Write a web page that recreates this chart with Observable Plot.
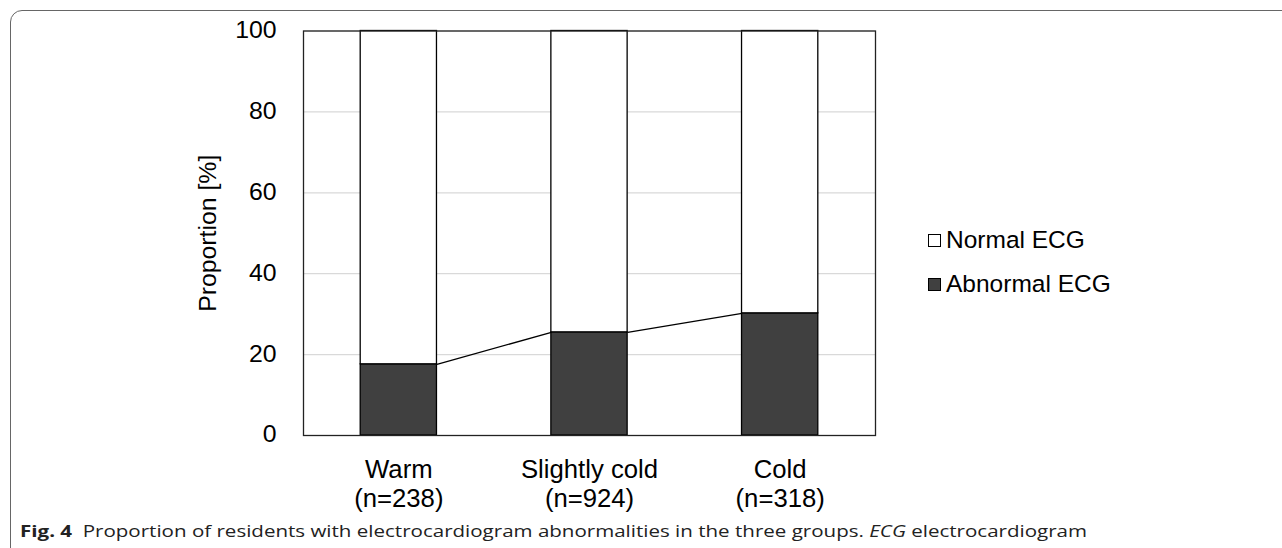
<!DOCTYPE html>
<html>
<head>
<meta charset="utf-8">
<script src="https://cdn.jsdelivr.net/npm/d3@7"></script>
<script src="https://cdn.jsdelivr.net/npm/@observablehq/plot@0.6"></script>
<style>
  html, body { margin: 0; padding: 0; background: #fff; }
  #wrap { position: relative; width: 1282px; height: 548px; overflow: hidden; font-family: "Liberation Sans", Arial, sans-serif; }
  #border { position: absolute; left: 10px; top: 10px; width: 1300px; height: 560px; border: 1.5px solid #666; border-radius: 12px; box-sizing: border-box; }
  #chart { position: absolute; left: 0; top: 0; }
  .legend { position: absolute; left: 928px; font-size: 24.5px; color: #000; display: flex; align-items: center; line-height: 1; }
  .legend .sw { width: 11px; height: 11px; border: 1px solid #000; margin-right: 5px; }
  #caption { position: absolute; left: 20px; top: 522px; font-family: "Open Sans", "Liberation Sans", sans-serif; font-size: 16.5px; color: #222; white-space: nowrap; transform-origin: 0 0; line-height: 1.1; }
</style>
</head>
<body>
<div id="wrap">
  <div id="border"></div>
  <div id="chart"></div>
  <div class="legend" style="top:228px"><div class="sw" style="background:#fff"></div>Normal ECG</div>
  <div class="legend" style="top:272px"><div class="sw" style="background:#404040"></div>Abnormal ECG</div>
  <div id="caption"><b>Fig. 4</b>&nbsp; Proportion of residents with electrocardiogram abnormalities in the three groups. <i>ECG</i> electrocardiogram</div>
</div>
<script>
const groups = ["Warm", "Slightly cold", "Cold"];
const nLabels = ["(n=238)", "(n=924)", "(n=318)"];
const abnormalPct = [17.6, 25.5, 30.2];
const yTicks = [0, 20, 40, 60, 80, 100];

const half = 0.2;
const rows = groups.map((g, i) => ({
  i, group: g, n: nLabels[i], abnormal: abnormalPct[i], normal: 100 - abnormalPct[i]
}));
const links = rows.slice(0, -1).map((r, k) => ({
  x1: r.i + half, y1: r.abnormal, x2: rows[k + 1].i - half, y2: rows[k + 1].abnormal
}));

const chart = Plot.plot({
  width: 1282,
  height: 519,
  marginLeft: 303,
  marginRight: 407,
  marginTop: 30.5,
  marginBottom: 84,
  style: { fontFamily: "Liberation Sans, Arial, sans-serif", background: "transparent" },
  x: { domain: [-0.5, 2.5], axis: null },
  y: { domain: [0, 100], ticks: yTicks },
  marks: [
    Plot.gridY(yTicks, { stroke: "#d9d9d9", strokeOpacity: 1, strokeWidth: 1.2 }),
    Plot.axisY(yTicks, { tickSize: 0, tickPadding: 27, fontSize: 24.8, dy: -1, fill: "#000", label: "Proportion [%]", labelAnchor: "center", labelArrow: "none", labelOffset: 105 }),
    Plot.rectY(rows, { x1: d => d.i - half, x2: d => d.i + half, y1: 0, y2: "abnormal", fill: "#404040", stroke: "#000", strokeWidth: 1.3 }),
    Plot.rectY(rows, { x1: d => d.i - half, x2: d => d.i + half, y1: "abnormal", y2: 100, fill: "#fff", stroke: "#000", strokeWidth: 1.3 }),
    Plot.link(links, { x1: "x1", y1: "y1", x2: "x2", y2: "y2", stroke: "#000", strokeWidth: 1.3 }),
    Plot.frame({ stroke: "#222", strokeWidth: 1.3 }),
    Plot.text(rows, { x: "i", y: 0, text: d => d.group + "\n" + d.n, lineAnchor: "top", dy: 22, lineHeight: 1.13, fontSize: 25.7, fill: "#000" })
  ]
});
document.getElementById("chart").appendChild(chart);

// fit caption to the reference's width
const cap = document.getElementById("caption");
const w = cap.getBoundingClientRect().width;
cap.style.transform = `scaleX(${1067 / w})`;
</script>
</body>
</html>
